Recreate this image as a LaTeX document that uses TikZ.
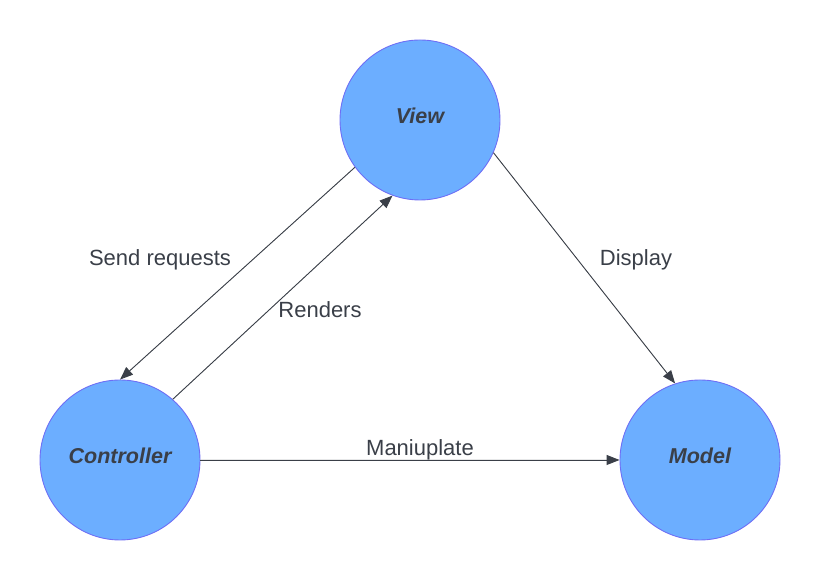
\documentclass[tikz,border=0pt]{standalone}
\usepackage{fontspec}
\setmainfont{Liberation Sans}
\usepackage{tikz}
\usetikzlibrary{arrows.meta,positioning}
\definecolor{relleno}{HTML}{6CAEFF}
\definecolor{borde}{HTML}{6E6EF5}
\definecolor{tinta}{HTML}{3A3F48}

\begin{document}
\begin{tikzpicture}[x=1pt,y=1pt,
componente/.style={circle,draw=borde,line width=0.9pt,fill=relleno,minimum size=160pt,inner sep=0pt,text height=15pt,text depth=8pt,text=tinta,font=\fontsize{21.5}{25}\selectfont\bfseries\itshape},
arr/.style={-{Triangle[length=13pt,width=10pt]},line width=0.9pt,draw=tinta,fill=tinta},
lbl/.style={text=tinta,font=\fontsize{22}{26}\selectfont,inner sep=1pt}
]
\useasboundingbox (0,0) rectangle (820,580);
\node[componente] (view) at (420,460) {View};
\node[componente] (ctrl) at (120,120) {Controller};
\node[componente] (model) at (700,120) {Model};

\draw[arr] (view.216) -- (ctrl.90);
\draw[arr] (ctrl.49) -- (view.250);
\draw[arr] (view.-24) -- (model.108);
\draw[arr] (ctrl.east) -- (model.west);

\node[lbl] (l1) at (160,320) {Send requests};
\node[lbl] (l2) at (320,270) {Renders};
\node[lbl] (l3) at (636,320) {Display};
\node[lbl] (l4) at (420,130) {Maniuplate};
\end{tikzpicture}
\end{document}
